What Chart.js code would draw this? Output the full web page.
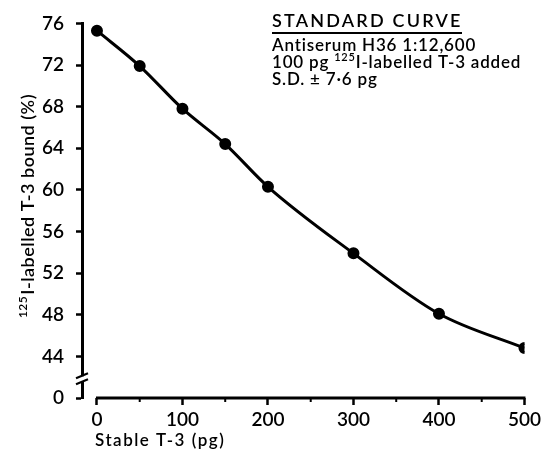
<!DOCTYPE html>
<html><head><meta charset="utf-8">
<script src="https://cdn.jsdelivr.net/npm/chart.js@4/dist/chart.umd.min.js"></script>
<style>html,body{margin:0;padding:0;background:#fff}canvas{display:block}</style>
</head><body>
<canvas id="c" width="544" height="452"></canvas>
<script>
// ---- data ----
const stableT3 = [0, 50, 100, 150, 200, 300, 400, 500];
const boundPct = [75.3, 71.9, 67.8, 64.4, 60.3, 53.9, 48.1, 44.8];
const xTickValues = [0, 100, 200, 300, 400, 500];
const xMinorTickValues = [50, 150, 250, 350, 450];
const yTickValues = [40, 44, 48, 52, 56, 60, 64, 68, 72, 76];
const yTickLabels = ['0', '44', '48', '52', '56', '60', '64', '68', '72', '76'];
const xTitle = 'Stable T-3 (pg)';
const yTitleSup = '125';
const yTitleMain = 'I-labelled T-3 bound (%)';
const noteTitle = 'STANDARD CURVE';
const noteLines = ['Antiserum H36 1:12,600', ['100 pg ', '125', 'I-labelled T-3 added'], 'S.D. \u00b1 7\u00b76 pg'];

const FONT = 'Lato, "DejaVu Sans", sans-serif';
const W = '600 ';

const decor = {
  id: 'decor',
  afterDraw(chart) {
    const ctx = chart.ctx, xs = chart.scales.x, ys = chart.scales.y, ca = chart.chartArea;
    ctx.save();
    ctx.strokeStyle = '#000'; ctx.fillStyle = '#000';
    // x axis line from 0 to 500
    const x0 = xs.getPixelForValue(0), x1 = xs.getPixelForValue(500), yb = ca.bottom;
    ctx.lineWidth = 3;
    ctx.beginPath(); ctx.moveTo(x0 - 1, yb); ctx.lineTo(x1 + 1, yb); ctx.stroke();
    // minor ticks
    ctx.lineWidth = 2;
    xMinorTickValues.forEach(v => {
      const px = xs.getPixelForValue(v);
      ctx.beginPath(); ctx.moveTo(px, yb); ctx.lineTo(px, yb + 4); ctx.stroke();
    });
    // axis break on y
    const ax = ca.left;
    const yBrk = ys.getPixelForValue(41.8);
    ctx.fillStyle = '#fff';
    ctx.fillRect(ax - 3, yBrk - 3, 6, 5);
    ctx.strokeStyle = '#000'; ctx.lineWidth = 2;
    ctx.beginPath(); ctx.moveTo(ax - 6, yBrk - 1); ctx.lineTo(ax + 6, yBrk - 6); ctx.stroke();
    ctx.beginPath(); ctx.moveTo(ax - 6, yBrk + 5); ctx.lineTo(ax + 6, yBrk); ctx.stroke();

    // y title (rotated)
    ctx.fillStyle = '#000';
    ctx.save();
    ctx.translate(29, 206);
    ctx.rotate(-Math.PI / 2);
    ctx.textBaseline = 'alphabetic';
    ctx.letterSpacing = '0.5px';
    ctx.font = W + '12px ' + FONT;
    const supW = ctx.measureText(yTitleSup).width;
    ctx.font = W + '18px ' + FONT;
    const mainW = ctx.measureText(yTitleMain).width;
    const tot = supW + mainW + 1;
    ctx.font = W + '12px ' + FONT;
    ctx.fillText(yTitleSup, -tot / 2, -2);
    ctx.font = W + '18px ' + FONT;
    ctx.fillText(yTitleMain, -tot / 2 + supW + 1, 5);
    ctx.restore();

    // x title
    ctx.font = W + '17px ' + FONT;
    ctx.letterSpacing = '1.5px';
    ctx.textAlign = 'left'; ctx.textBaseline = 'alphabetic';
    ctx.fillText(xTitle, 95, 446);

    // annotation block
    const nx = 272;
    ctx.font = W + '18px ' + FONT;
    ctx.letterSpacing = '2.2px';
    ctx.fillText(noteTitle, nx, 27);
    ctx.lineWidth = 2;
    ctx.beginPath(); ctx.moveTo(nx, 33); ctx.lineTo(462, 33); ctx.stroke();
    ctx.letterSpacing = '0.8px';
    let by = 51;
    noteLines.forEach(line => {
      if (Array.isArray(line)) {
        let cx = nx;
        ctx.font = W + '17px ' + FONT; ctx.fillText(line[0], cx, by); cx += ctx.measureText(line[0]).width;
        ctx.font = W + '11px ' + FONT; ctx.fillText(line[1], cx, by - 7); cx += ctx.measureText(line[1]).width;
        ctx.font = W + '17px ' + FONT; ctx.fillText(line[2], cx, by);
      } else {
        ctx.font = W + '17px ' + FONT; ctx.fillText(line, nx, by);
      }
      by += 17;
    });
    ctx.restore();
  }
};

new Chart(document.getElementById('c'), {
  type: 'scatter',
  data: {
    datasets: [{
      data: stableT3.map((x, i) => ({ x: x, y: boundPct[i] })),
      showLine: true,
      borderColor: '#000',
      backgroundColor: '#000',
      borderWidth: 3,
      pointRadius: 4.5,
      pointHoverRadius: 4.5,
      cubicInterpolationMode: 'monotone'
    }]
  },
  options: {
    responsive: false,
    animation: false,
    events: [],
    layout: { padding: { top: 21, right: 18, left: 0, bottom: 0 } },
    plugins: { legend: { display: false }, tooltip: { enabled: false } },
    scales: {
      x: {
        type: 'linear', min: -17.5, max: 500,
        afterBuildTicks: s => { s.ticks = xTickValues.map(v => ({ value: v })); },
        afterFit: s => { s.height = 54; },
        border: { display: false },
        grid: { drawOnChartArea: false, tickLength: 7, tickWidth: 2.5, tickColor: '#000' },
        ticks: { color: '#000', font: { family: FONT, size: 19, weight: '600' }, padding: 3, maxRotation: 0,
                 callback: v => String(v) }
      },
      y: {
        type: 'linear', min: 40, max: 76,
        afterBuildTicks: s => { s.ticks = yTickValues.map(v => ({ value: v })); },
        afterFit: s => { s.width = 82; },
        border: { display: true, color: '#000', width: 3 },
        grid: { drawOnChartArea: false, tickLength: 6, tickWidth: 2.5, tickColor: '#000' },
        ticks: { color: '#000', font: { family: FONT, size: 19, weight: '600' }, padding: 12,
                 callback: v => yTickLabels[yTickValues.indexOf(v)] }
      }
    }
  },
  plugins: [decor]
});
</script>
</body></html>
